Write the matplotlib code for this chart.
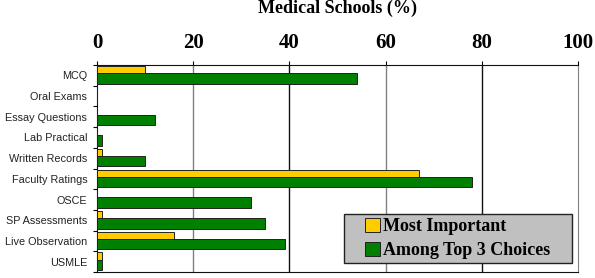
import matplotlib
matplotlib.use("Agg")
import matplotlib.pyplot as plt
from matplotlib.patches import Rectangle
import numpy as np

categories = ["MCQ", "Oral Exams", "Essay Questions", "Lab Practical", "Written Records",
              "Faculty Ratings", "OSCE", "SP Assessments", "Live Observation", "USMLE"]
most_important = [10, 0, 0, 0, 1, 67, 0, 1, 16, 1]
top3 = [54, 0, 12, 1, 10, 78, 32, 35, 39, 1]
xticks = [0, 20, 40, 60, 80, 100]

fig = plt.figure(figsize=(5.95, 2.78), dpi=100)
ax = fig.add_axes([97/595, 1-272/278, 481/595, 207/278])

y = np.arange(len(categories))
ax.barh(y - 0.275, most_important, height=0.35, color="#FFCC00", edgecolor="#222222", linewidth=0.7, zorder=3,
        label="Most Important")
ax.barh(y + 0.15, top3, height=0.5, color="#008000", edgecolor="#222222", linewidth=0.7, zorder=3,
        label="Among Top 3 Choices")

ax.set_ylim(len(categories) - 0.5, -0.5)
ax.set_xlim(0, 100)
ax.set_yticks(np.arange(len(categories) + 1) - 0.5)
ax.set_yticklabels([])
ax.set_yticks(y, minor=True)
ax.set_yticklabels(categories, minor=True, fontsize=7.8, family="Liberation Sans", color="#222222")
ax.tick_params(axis="y", which="minor", length=0, pad=7)
ax.tick_params(axis="y", which="major", length=3, direction="out")

ax.xaxis.tick_top()
ax.set_xticks(xticks)
ax.set_xticklabels([str(v) for v in xticks], fontsize=15, family="Liberation Serif", fontweight="bold")
ax.tick_params(axis="x", length=3, pad=6)

for v, c in zip([20, 40, 60, 80], ["#808080", "#111111", "#808080", "#111111"]):
    ax.axvline(v, color=c, linewidth=1.0, zorder=1)

for s in ["top", "left", "bottom"]:
    ax.spines[s].set_color("#111111")
ax.spines["right"].set_color("#808080")

fig.text(0.5 * (97 + 578) / 595, 1.0, "Medical Schools (%)", ha="center", va="top",
         fontsize=13, family="Liberation Serif", fontweight="bold")

# legend box
x0, x1, yt, yb = 344, 572, 214, 263
ax.add_patch(Rectangle((x0/595, 1-yb/278), (x1-x0)/595, (yb-yt)/278, transform=fig.transFigure,
                       facecolor="#C0C0C0", edgecolor="#222222", linewidth=1.0, zorder=5, clip_on=False))
leg = ax.legend(loc="center", bbox_to_anchor=((x0+x1)/2/595, 1-(yt+yb)/2/278), bbox_transform=fig.transFigure,
                prop={"family": "Liberation Serif", "weight": "bold", "size": 13},
                frameon=False, handlelength=0.8, handleheight=0.8, handletextpad=0.2, borderpad=0.3,
                labelspacing=0.4, borderaxespad=0)
leg.set_zorder(6)

fig.savefig("out.png", dpi=100)
